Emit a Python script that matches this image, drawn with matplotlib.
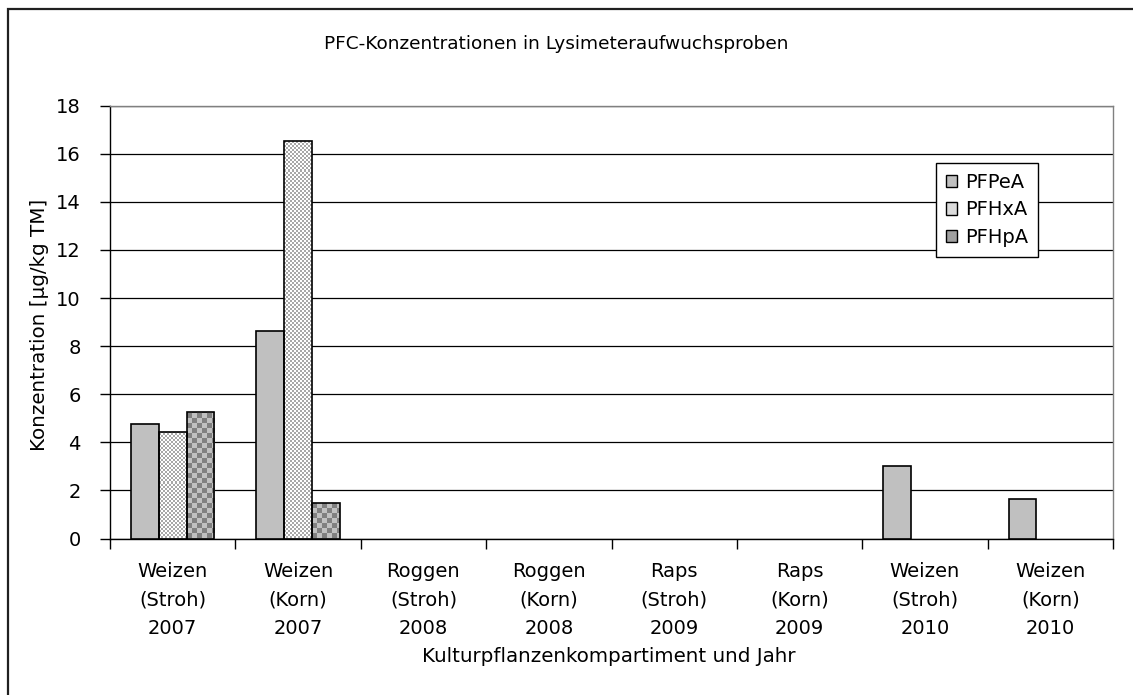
import numpy as np
import matplotlib
matplotlib.use("Agg")
import matplotlib.pyplot as plt
from matplotlib.patches import Patch, Rectangle

# --- data ---
categories = ["Weizen\n(Stroh)\n2007", "Weizen\n(Korn)\n2007",
              "Roggen\n(Stroh)\n2008", "Roggen\n(Korn)\n2008",
              "Raps\n(Stroh)\n2009", "Raps\n(Korn)\n2009",
              "Weizen\n(Stroh)\n2010", "Weizen\n(Korn)\n2010"]
series_names = ["PFPeA", "PFHxA", "PFHpA"]
pfpea = [4.77, 8.62, 0, 0, 0, 0, 3.02, 1.63]
pfhxa = [4.41, 16.53, 0, 0, 0, 0, 0, 0]
pfhpa = [5.28, 1.48, 0, 0, 0, 0, 0, 0]

FS = 14
plt.rcParams['font.family'] = ['DejaVu Sans']

fig = plt.figure(figsize=(11.33, 6.95), dpi=100)
ax = fig.add_axes([110 / 1133, 1 - 538.5 / 695, 1003 / 1133, 432.8 / 695])

x = np.arange(len(categories))
bw = 1 / 4.5

# patterns: (cell px, colour a, colour b); None = solid
patterns = [None, (2, "#ffffff", "#a8a8a8"), (5, "#808080", "#c0c0c0")]
solid = "#c0c0c0"

bars = []
for i, vals in enumerate([pfpea, pfhxa, pfhpa]):
    fc = solid if patterns[i] is None else "none"
    lws = [1.2 if v > 0 else 0 for v in vals]
    b = ax.bar(x + (i - 1) * bw, vals, bw, facecolor=fc, edgecolor="black",
               linewidth=lws, zorder=3)
    bars.append(b)

ax.set_xlim(-0.5, len(categories) - 0.5)
ax.set_ylim(0, 18)

# pixel scale of the data axes
pxx = 1003 / len(categories)
pxy = 432.8 / 18


def to_rgb(c):
    return np.array(matplotlib.colors.to_rgb(c))


for i, b in enumerate(bars):
    if patterns[i] is None:
        continue
    cell, ca, cb = patterns[i]
    for rect in b:
        h = rect.get_height()
        if h <= 0:
            continue
        x0 = rect.get_x()
        w = rect.get_width()
        nx = int(np.ceil(w * pxx / cell)) + 1
        ny = int(np.ceil(h * pxy / cell)) + 1
        idx = (np.arange(ny)[:, None] + np.arange(nx)[None, :]) % 2
        img = np.where(idx[..., None] == 0, to_rgb(ca), to_rgb(cb))
        im = ax.imshow(img, extent=(x0, x0 + nx * cell / pxx, 0, ny * cell / pxy),
                       origin="lower", interpolation="nearest", aspect="auto",
                       zorder=2.5)
        im.set_clip_path(rect)

ax.set_xlim(-0.5, len(categories) - 0.5)
ax.set_ylim(0, 18)

ax.set_axisbelow(True)
ax.yaxis.grid(True, color="black", linewidth=0.9)
ax.set_yticks(np.arange(0, 19, 2))
ax.tick_params(axis="y", direction="out", length=7, width=1, labelsize=FS, pad=14)

ax.set_xticks(x)
ax.set_xticklabels(categories, fontsize=FS, linespacing=1.62)
ax.tick_params(axis="x", which="major", length=0, pad=17)
ax.set_xticks(np.arange(-0.5, len(categories), 1), minor=True)
ax.tick_params(axis="x", which="minor", direction="out", length=7, width=1)

for s in ["left", "bottom"]:
    ax.spines[s].set_color("black")
    ax.spines[s].set_linewidth(1)
for s in ["right", "top"]:
    ax.spines[s].set_color("#808080")
    ax.spines[s].set_linewidth(1)

handles = [Patch(facecolor=solid, edgecolor="black", label=series_names[0]),
           Patch(facecolor="#dcdcdc", edgecolor="black", label=series_names[1]),
           Patch(facecolor="#a0a0a0", edgecolor="black", label=series_names[2])]
leg = ax.legend(handles=handles, loc="upper left", bbox_to_anchor=(0.8235, 0.868),
                fontsize=FS, frameon=True, fancybox=False, shadow=False,
                handlelength=0.6, handleheight=0.6, handletextpad=0.4,
                labelspacing=0.45, borderpad=0.5, borderaxespad=0)
leg.get_frame().set_edgecolor("black")
leg.get_frame().set_linewidth(1)
leg.get_frame().set_alpha(1)

fig.text(556 / 1133, 1 - 44 / 695, "PFC-Konzentrationen in Lysimeteraufwuchsproben",
         ha="center", va="center", fontsize=13.3)
fig.text(40 / 1133, 1 - 325 / 695, "Konzentration [µg/kg TM]", rotation=90,
         ha="center", va="center", fontsize=14.3)
fig.text(609 / 1133, 1 - 656 / 695, "Kulturpflanzenkompartiment und Jahr",
         ha="center", va="center", fontsize=14.3)

# outer chart frame (cut off at right and bottom as in the original)
fig.patches.append(Rectangle((7.5 / 1133, -0.1), 1.2, 0.1 + (695 - 8.5) / 695,
                             transform=fig.transFigure, fill=False,
                             edgecolor="#202020", linewidth=1.6))

fig.savefig("out.png", dpi=100)
